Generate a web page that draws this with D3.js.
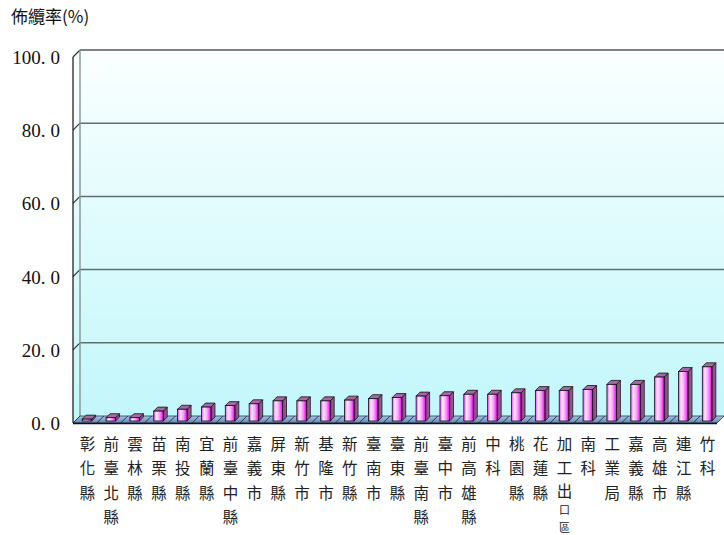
<!DOCTYPE html>
<html><head><meta charset="utf-8">
<script src="https://cdn.jsdelivr.net/npm/d3@7"></script>
<style>body{margin:0;background:#fff}svg{display:block}</style>
</head><body>
<script>
const categories = ["彰化縣","前臺北縣","雲林縣","苗栗縣","南投縣","宜蘭縣","前臺中縣","嘉義市","屏東縣","新竹市","基隆市","新竹縣","臺南市","臺東縣","前臺南縣","臺中市","前高雄縣","中科","桃園縣","花蓮縣","加工出口區","南科","工業局","嘉義縣","高雄市","連江縣","竹科"];
const values = [0.5,0.9,0.9,2.7,3.2,3.8,4.2,4.7,5.5,5.5,5.5,5.7,6.1,6.4,6.8,6.9,7.3,7.3,7.7,8.3,8.3,8.6,10.0,10.0,12.0,13.5,14.8];
const yTicks = [0,20,40,60,80,100];
const yTickLabels = ["0.0","20.0","40.0","60.0","80.0","100.0"];
const yTitle = "佈纜率(%)";

const W=724,H=535;
const DX=7, DY=-7;       // wall depth
const svg=d3.select("body").append("svg").attr("width",W).attr("height",H);
const x=d3.scaleBand().domain(categories).range([73,717]);
const y=d3.scaleLinear().domain([0,100]).range([423,57]);

const defs=svg.append("defs");
const wg=defs.append("linearGradient").attr("id","wall").attr("x1",0).attr("y1",0).attr("x2",0).attr("y2",1);
wg.append("stop").attr("offset","0").attr("stop-color","#fbffff");
wg.append("stop").attr("offset","1").attr("stop-color","#c2f7fb");
const fg=defs.append("linearGradient").attr("id","floor").attr("x1",0).attr("y1",0).attr("x2",0).attr("y2",1);
fg.append("stop").attr("offset","0").attr("stop-color","#a8c8e6");
fg.append("stop").attr("offset","1").attr("stop-color","#5a86b8");
const bg=defs.append("linearGradient").attr("id","barf").attr("x1",0).attr("y1",0).attr("x2",1).attr("y2",0);
[[0,"#ff30ff"],[0.28,"#fff0ff"],[0.65,"#ff90ff"],[1,"#f000f0"]].forEach(s=>bg.append("stop").attr("offset",s[0]).attr("stop-color",s[1]));
const sg=defs.append("linearGradient").attr("id","bars").attr("x1",0).attr("y1",0).attr("x2",1).attr("y2",0);
sg.append("stop").attr("offset","0").attr("stop-color","#7a3a7a");
sg.append("stop").attr("offset","1").attr("stop-color","#9a6a9a");

const x0=x.range()[0], x1=x.range()[1];
const pts=a=>a.map(p=>p.join(",")).join(" ");
// back wall
svg.append("rect").attr("x",x0+DX).attr("y",y(100)+DY).attr("width",x1-x0).attr("height",y(0)-y(100)).attr("fill","url(#wall)");
// left wall
svg.append("polygon").attr("points",pts([[x0,y(100)],[x0+DX,y(100)+DY],[x0+DX,y(0)+DY],[x0,y(0)]])).attr("fill","url(#wall)");
// gridlines
yTicks.filter(v=>v>0).forEach(v=>{
  svg.append("line").attr("x1",x0+DX).attr("x2",x1+DX).attr("y1",y(v)+DY).attr("y2",y(v)+DY)
    .attr("stroke",v===100?"#808080":"#5e6e6e").attr("stroke-width",v===100?2:1.5);
  svg.append("line").attr("x1",x0).attr("x2",x0+DX).attr("y1",y(v)).attr("y2",y(v)+DY)
    .attr("stroke","#333").attr("stroke-width",1.2);
});
svg.append("line").attr("x1",x0+DX).attr("x2",x0+DX).attr("y1",y(100)+DY).attr("y2",y(0)+DY).attr("stroke","#8a9a9a").attr("stroke-width",1.5);
// floor
svg.append("polygon").attr("points",pts([[x0,y(0)],[x1,y(0)],[x1+DX,y(0)+DY],[x0+DX,y(0)+DY]])).attr("fill","url(#floor)").attr("stroke","#2a3a4a").attr("stroke-width",0.8);
categories.forEach((c,i)=>{
  const bx=x(c);
  svg.append("line").attr("x1",bx).attr("x2",bx+DX).attr("y1",y(0)).attr("y2",y(0)+DY).attr("stroke","#2a3a4a").attr("stroke-width",1);
});
svg.append("line").attr("x1",x0).attr("x2",x1).attr("y1",y(0)+0.5).attr("y2",y(0)+0.5).attr("stroke","#111").attr("stroke-width",1.5);
// axis line
svg.append("line").attr("x1",x0).attr("x2",x0).attr("y1",y(100)).attr("y2",y(0)).attr("stroke","#111").attr("stroke-width",1.2);

// bars
const bw=9.5, bd=4, off=2;
const g=svg.append("g");
categories.forEach((c,i)=>{
  const cx=x(c)+x.bandwidth()/2+off;
  const l=cx-bw/2, r=cx+bw/2;
  const yb=y(0)-off, yt=y(0)-off-(y(0)-y(values[i]));
  g.append("polygon").attr("points",pts([[r,yb],[r+bd,yb-bd],[r+bd,yt-bd],[r,yt]])).attr("fill","url(#bars)").attr("stroke","#111").attr("stroke-width",0.8);
  g.append("polygon").attr("points",pts([[l,yt],[l+bd,yt-bd],[r+bd,yt-bd],[r,yt]])).attr("fill","#a868a8").attr("stroke","#111").attr("stroke-width",0.8);
  g.append("rect").attr("x",l).attr("y",yt).attr("width",bw).attr("height",yb-yt).attr("fill","url(#barf)").attr("stroke","#111").attr("stroke-width",0.8);
});

// y labels  (wide gap after the decimal point, like the original font)
yTicks.forEach((v,i)=>{
  const t=yTickLabels[i];
  const k=t.indexOf(".");
  const tx=svg.append("text").attr("x",60).attr("y",y(v)).attr("text-anchor","end").attr("dominant-baseline","central")
    .attr("font-family","'Liberation Serif',serif").attr("font-size",19).attr("fill","#111");
  tx.append("tspan").text(t.slice(0,k+1));
  tx.append("tspan").attr("dx",5).text(t.slice(k+1));
});
// title
svg.append("text").attr("x",11).attr("y",23).attr("font-family","'Noto Sans CJK TC',sans-serif").attr("font-size",17).attr("fill","#111").text(yTitle);

// category labels (vertical stack)
categories.forEach(c=>{
  const cx=x(c)+x.bandwidth()/2+2.5;
  const chars=Array.from(c);
  const long=chars.length>4;
  chars.forEach((ch,j)=>{
    let yy=443+24.3*j, fs=15.5;
    if(long && j===2) yy=490;
    if(long && j>=3){ yy= j===3?509:527; fs=11; }
    svg.append("text").attr("x",cx).attr("y",yy).attr("text-anchor","middle").attr("dominant-baseline","central")
      .attr("font-family","'Noto Sans CJK TC',sans-serif").attr("font-size",fs).attr("fill","#222").text(ch);
  });
});
</script>
</body></html>
